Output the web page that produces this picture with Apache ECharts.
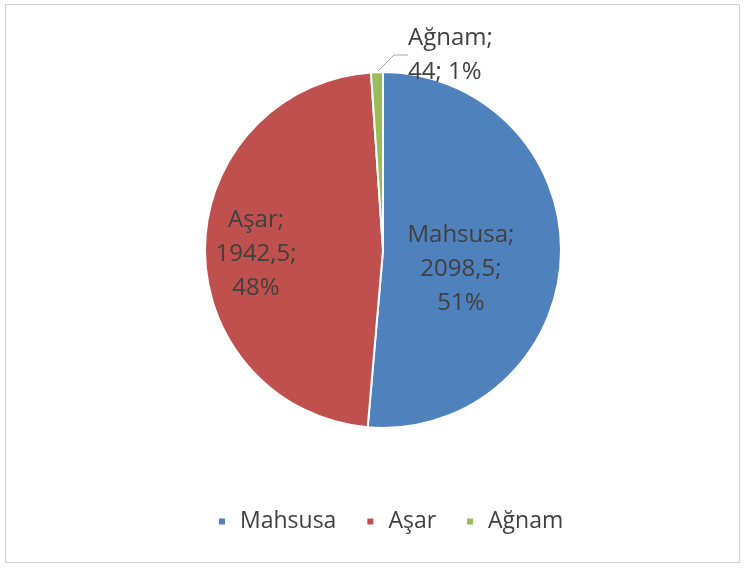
<!DOCTYPE html>
<html>
<head>
<meta charset="utf-8">
<script src="https://cdn.jsdelivr.net/npm/echarts@6/dist/echarts.min.js"></script>
<style>
  html, body { margin: 0; padding: 0; background: #fff; }
  #frame {
    position: absolute; left: 5px; top: 4px; width: 735px; height: 559px;
    border: 1px solid #d0d0d0; box-sizing: border-box;
  }
  #chart { position: absolute; left: 0; top: 0; width: 747px; height: 569px; }
</style>
</head>
<body>
<div id="frame"></div>
<div id="chart"></div>
<script>
  // kategoriler ve değerler
  var categories = ['Mahsusa', 'Aşar', 'Ağnam'];
  var values = [2098.5, 1942.5, 44];
  var colors = ['#4F81BD', '#C0504D', '#9BBB59'];

  var fontFamily = '"Open Sans", "DejaVu Sans", sans-serif';

  function fmtNum(v) {
    return String(v).replace('.', ',');
  }

  var data = categories.map(function (name, i) {
    var item = { name: name, value: values[i], itemStyle: { color: colors[i] } };
    if (i === 0) {
      item.label = { position: 'inside', offset: [-14, 15] };
    } else if (i === 1) {
      item.label = { position: 'inside', offset: [-35, 5] };
    } else {
      item.label = { position: 'outside' };
      item.labelLine = { show: true, length: 20, length2: 14 };
    }
    return item;
  });

  var chart = echarts.init(document.getElementById('chart'));

  chart.setOption({
    animation: false,
    color: colors,
    legend: {
      bottom: 31,
      left: 212,
      icon: 'rect',
      itemWidth: 8,
      itemHeight: 8,
      itemGap: 29,
      textStyle: { color: '#404040', fontSize: 23, fontFamily: fontFamily, padding: [0, 0, 0, 9] },
      data: categories
    },
    series: [{
      type: 'pie',
      center: [383, 250],
      radius: 178,
      startAngle: 90,
      clockwise: true,
      percentPrecision: 0,
      itemStyle: { borderColor: '#fff', borderWidth: 2 },
      label: {
        color: '#404040',
        fontSize: 24,
        fontFamily: fontFamily,
        lineHeight: 34,
        formatter: function (p) {
          if (p.dataIndex === 2) {
            return p.name + ';\n' + fmtNum(p.value) + '; ' + p.percent + '%';
          }
          return p.name + ';\n' + fmtNum(p.value) + ';\n' + p.percent + '%';
        }
      },
      labelLine: { lineStyle: { color: '#a6a6a6', width: 1 } },
      labelLayout: function (params) {
        if (params.dataIndex === 2) {
          return { x: 408, y: 55, align: 'left', verticalAlign: 'middle' };
        }
      },
      data: data
    }]
  });
</script>
</body>
</html>
